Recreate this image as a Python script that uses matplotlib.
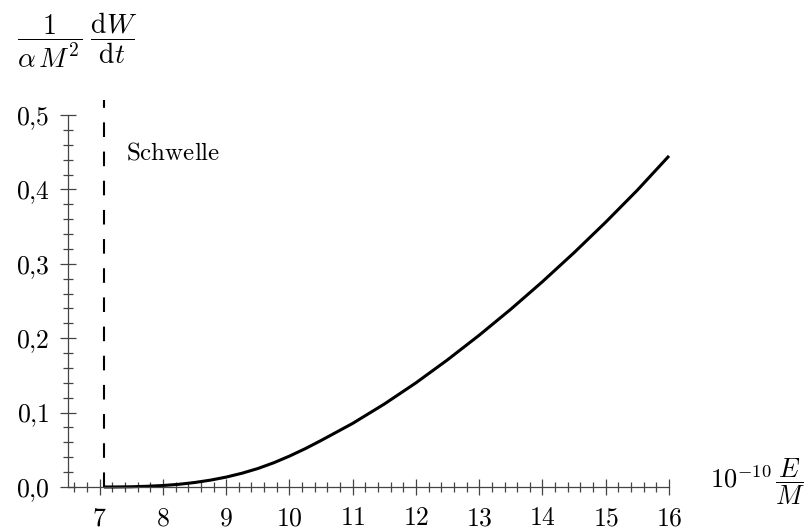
import matplotlib
matplotlib.use("Agg")
import matplotlib.pyplot as plt
from matplotlib.ticker import MultipleLocator, FuncFormatter

plt.rcParams['mathtext.fontset'] = 'cm'
plt.rcParams['font.family'] = 'DejaVu Serif'

# threshold energy (10^-10 E/M)
schwelle = 7.07

energie = [7.07, 7.25, 7.5, 7.75, 8.0, 8.25, 8.5, 8.75, 9.0, 9.25, 9.5, 9.75,
           10.0, 10.25, 10.5, 11.0, 11.5, 12.0, 12.5,
           13.0, 13.5, 14.0, 14.5, 15.0, 15.5, 16.0]
rate = [0.0, 0.00005, 0.0003, 0.001, 0.002, 0.0036, 0.006, 0.0092, 0.0133, 0.0185,
        0.0248, 0.0325, 0.0415, 0.0515, 0.0625, 0.0855, 0.1115,
        0.140, 0.171, 0.204, 0.239, 0.276, 0.315, 0.356, 0.399, 0.445]

fig = plt.figure(figsize=(8.08, 5.29), dpi=100)
ax = fig.add_axes([68/808, 1 - 487/529, 601/808, 372/529])

ax.plot(energie, rate, color='black', lw=2.2, solid_capstyle='butt',
        solid_joinstyle='round', clip_on=False)
ax.plot([schwelle, schwelle], [0, 0.52], color='black', lw=1.5,
        dashes=(7, 7), clip_on=False)
ax.text(7.42, 0.449, r'$\mathrm{Schwelle}$', fontsize=18, va='center', ha='left')

ax.set_xlim(6.5, 16)
ax.set_ylim(0, 0.5)

for s in ['top', 'right']:
    ax.spines[s].set_visible(False)
for s in ['left', 'bottom']:
    ax.spines[s].set_color('#444444')
    ax.spines[s].set_linewidth(0.9)

ax.xaxis.set_major_locator(MultipleLocator(1))
ax.xaxis.set_minor_locator(MultipleLocator(0.2))
ax.yaxis.set_major_locator(MultipleLocator(0.1))
ax.yaxis.set_minor_locator(MultipleLocator(0.02))
ax.set_xticks([7, 8, 9, 10, 11, 12, 13, 14, 15, 16])
ax.xaxis.set_major_formatter(FuncFormatter(lambda v, p: r'$%d$' % round(v)))
ax.yaxis.set_major_formatter(FuncFormatter(lambda v, p: r'$%s$' % ('%.1f' % v).replace('.', '{,}')))

ax.tick_params(which='major', direction='inout', length=12, width=0.9,
               color='#444444', labelsize=18.5, pad=7)
ax.tick_params(which='minor', direction='inout', length=6.5, width=0.9,
               color='#444444')

fig.text(77/808, 1 - 40/529, r'$\dfrac{1}{\alpha\,M^2}\;\dfrac{\mathrm{d}W}{\mathrm{d}t}$',
         fontsize=20, ha='center', va='center')
fig.text(758/808, 1 - 482/529, r'$10^{-10}\,\dfrac{E}{M}$',
         fontsize=19, ha='center', va='center')

fig.savefig('out.png', dpi=100)
